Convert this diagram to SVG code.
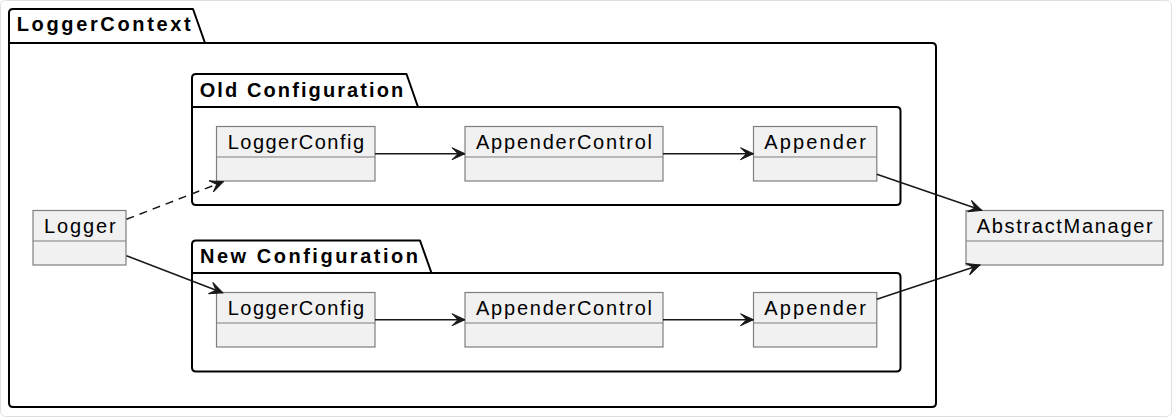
<svg xmlns="http://www.w3.org/2000/svg" width="1172" height="417" viewBox="0 0 1172 417">
<defs>
<style>
.pkg{fill:none;stroke:#000;stroke-width:2;stroke-linejoin:round}
.ptitle{font-family:"Liberation Sans",Arial,sans-serif;font-weight:bold;font-size:20px;fill:#000}
.cls{fill:#F1F1F1;stroke:#7f7f7f;stroke-width:1.2}
.div{stroke:#7f7f7f;stroke-width:1.2}
.cname{font-family:"Liberation Sans",Arial,sans-serif;font-size:20px;fill:#000}
.edge{fill:none;stroke:#181818;stroke-width:1.5}
.dash{stroke-dasharray:8,6}
</style>
<marker id="arr" markerUnits="userSpaceOnUse" markerWidth="16" markerHeight="16" viewBox="-14 -8 16 16" refX="0" refY="0" orient="auto">
<path d="M0,0 L-13,-6 L-7,0 L-13,6 Z" fill="#181818" stroke="#181818" stroke-width="1" stroke-linejoin="miter"/>
</marker>
</defs>
<rect x="0.5" y="0.5" width="1171" height="416" rx="5" fill="#fff" stroke="#e0e0e0"/>

<g id="pkg-LoggerContext">
<path class="pkg" d="M9,43 L9,13 Q9,9 13,9 L193,9 L205,43 L932,43 Q936,43 936,47 L936,403 Q936,407 932,407 L13,407 Q9,407 9,403 Z M9,43 L205,43"/>
<text class="ptitle" x="16.7" y="31" textLength="174" lengthAdjust="spacing">LoggerContext</text>
</g>

<g id="pkg-OldConfiguration">
<path class="pkg" d="M192,107 L192,78 Q192,74 196,74 L406.5,74 L418,107 L896.5,107 Q900.5,107 900.5,111 L900.5,201 Q900.5,205 896.5,205 L196,205 Q192,205 192,201 Z M192,107 L418,107"/>
<text class="ptitle" x="199.7" y="96.7" textLength="203.6" lengthAdjust="spacing">Old Configuration</text>
</g>

<g id="pkg-NewConfiguration">
<path class="pkg" d="M192,273 L192,244.5 Q192,240.5 196,240.5 L420,240.5 L431.5,273 L896.5,273 Q900.5,273 900.5,277 L900.5,367.5 Q900.5,371.5 896.5,371.5 L196,371.5 Q192,371.5 192,367.5 Z M192,273 L431.5,273"/>
<text class="ptitle" x="200" y="262.7" textLength="218" lengthAdjust="spacing">New Configuration</text>
</g>

<g id="Logger">
<rect class="cls" x="33" y="210.5" width="93" height="54.5"/>
<line class="div" x1="33" y1="241" x2="126" y2="241"/>
<text class="cname" x="44" y="233.3" textLength="71.7" lengthAdjust="spacing">Logger</text>
</g>

<g id="OldLoggerConfig">
<rect class="cls" x="216.5" y="126.5" width="158.5" height="54.5"/>
<line class="div" x1="216.5" y1="157" x2="375" y2="157"/>
<text class="cname" x="227.7" y="148.5" textLength="136.3" lengthAdjust="spacing">LoggerConfig</text>
</g>

<g id="OldAppenderControl">
<rect class="cls" x="465" y="126.5" width="198" height="54.5"/>
<line class="div" x1="465" y1="157" x2="663" y2="157"/>
<text class="cname" x="476" y="148.5" textLength="176" lengthAdjust="spacing">AppenderControl</text>
</g>

<g id="OldAppender">
<rect class="cls" x="753.5" y="126.5" width="123.3" height="54.5"/>
<line class="div" x1="753.5" y1="157" x2="876.8" y2="157"/>
<text class="cname" x="764.3" y="148.5" textLength="101.7" lengthAdjust="spacing">Appender</text>
</g>

<g id="NewLoggerConfig">
<rect class="cls" x="216.5" y="292.5" width="158.5" height="54.5"/>
<line class="div" x1="216.5" y1="323" x2="375" y2="323"/>
<text class="cname" x="227.7" y="314.5" textLength="136.3" lengthAdjust="spacing">LoggerConfig</text>
</g>

<g id="NewAppenderControl">
<rect class="cls" x="465" y="292.5" width="198" height="54.5"/>
<line class="div" x1="465" y1="323" x2="663" y2="323"/>
<text class="cname" x="476" y="314.5" textLength="176" lengthAdjust="spacing">AppenderControl</text>
</g>

<g id="NewAppender">
<rect class="cls" x="753.5" y="292.5" width="123.3" height="54.5"/>
<line class="div" x1="753.5" y1="323" x2="876.8" y2="323"/>
<text class="cname" x="764.3" y="314.5" textLength="101.7" lengthAdjust="spacing">Appender</text>
</g>

<g id="AbstractManager">
<rect class="cls" x="966" y="210.5" width="197" height="54.5"/>
<line class="div" x1="966" y1="241" x2="1163" y2="241"/>
<text class="cname" x="976.7" y="233.3" textLength="176" lengthAdjust="spacing">AbstractManager</text>
</g>

<g id="connectors">
<line class="edge dash" x1="126.5" y1="219.3" x2="223.3" y2="181.7" marker-end="url(#arr)"/>
<line class="edge" x1="126.5" y1="255.7" x2="222.7" y2="292.7" marker-end="url(#arr)"/>
<line class="edge" x1="375" y1="153.7" x2="465" y2="153.7" marker-end="url(#arr)"/>
<line class="edge" x1="663" y1="153.7" x2="753.5" y2="153.7" marker-end="url(#arr)"/>
<line class="edge" x1="375" y1="319.7" x2="465" y2="319.7" marker-end="url(#arr)"/>
<line class="edge" x1="663" y1="319.7" x2="753.5" y2="319.7" marker-end="url(#arr)"/>
<line class="edge" x1="876.8" y1="174.3" x2="981.7" y2="210.3" marker-end="url(#arr)"/>
<line class="edge" x1="876.8" y1="299.3" x2="980" y2="265" marker-end="url(#arr)"/>
</g>
</svg>
